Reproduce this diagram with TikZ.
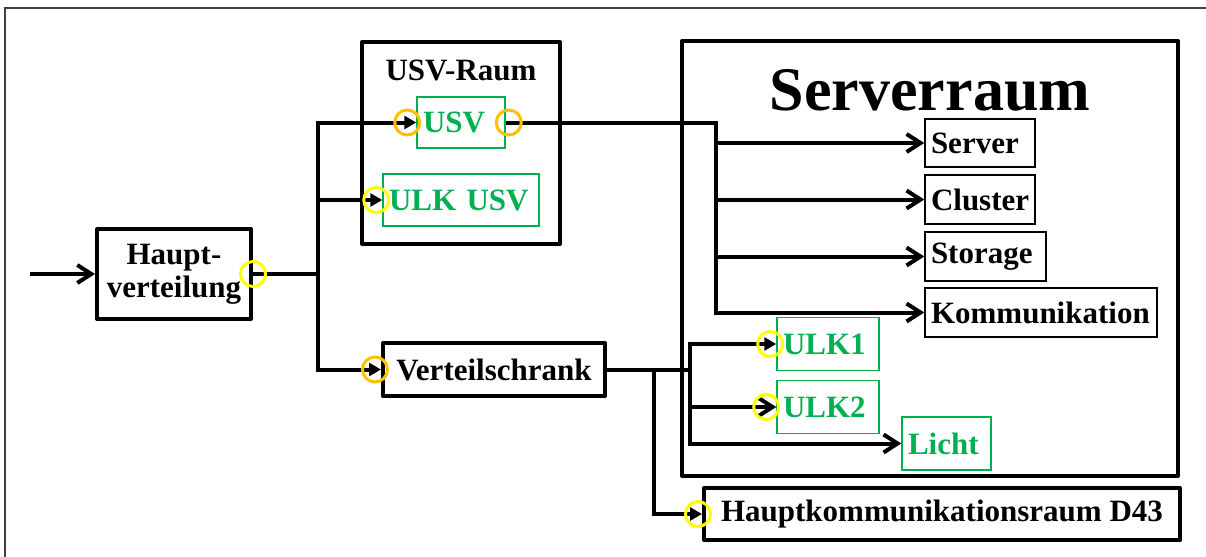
\documentclass[tikz,border=0pt]{standalone}
\usepackage{fontspec}
\setmainfont{Liberation Serif}
\usetikzlibrary{arrows.meta}
\definecolor{pptgreen}{RGB}{0,176,80}
\definecolor{pptorange}{RGB}{255,192,0}
\definecolor{pptyellow}{RGB}{255,255,0}

\begin{document}
\begin{tikzpicture}[x=0.5pt,y=-0.5pt,
  every node/.style={font=\fontsize{15.5}{16.5}\selectfont\bfseries, inner sep=0pt},
  heavybox/.style={draw, line width=2pt, line join=round, align=center},
  thinbox/.style={draw, line width=0.75pt, inner xsep=3pt, align=left},
  greenbox/.style={draw=pptgreen, text=pptgreen, line width=0.75pt, inner xsep=3pt, align=left},
  room/.style={draw, line width=2pt, line join=round},
  wire/.style={line width=2pt},
  openhead/.style={-{Straight Barb[length=7pt,width=9pt]}},
  filledhead/.style={-{Triangle[length=6pt,width=6.5pt]}},
  ring/.style={circle, draw=#1, line width=1.5pt, minimum size=12.5pt, inner sep=0pt},
]
\useasboundingbox (0,0) rectangle (1206,557);

% page frame
\draw[line width=0.8pt, black!75] (5,557) -- (5,8) -- (1206,8);

% rooms
\node[room, minimum width=99pt, minimum height=101pt] (usvraum) at (461,143) {};
\node (usvtitle) at (461,70) {USV-Raum};
\node[room, minimum width=248pt, minimum height=217.5pt] (serverraum) at (930,258.5) {};
\node[font=\fontsize{31}{31}\selectfont\bfseries] (srtitle) at (930,90) {Serverraum};

% distribution boxes
\node[heavybox, minimum width=77pt, minimum height=45pt] (hv) at (174,274) {Haupt-\\verteilung};
\node[heavybox, minimum width=111pt, minimum height=26.5pt] (vs) at (494,369.5) {Verteilschrank};
\node[heavybox, minimum width=238pt, minimum height=26pt] (hkr) at (942,514) {Hauptkommunikationsraum D43};

% UPS room
\node[greenbox, text width=38pt, minimum height=25.5pt] (usv) at (461,122.5) {USV};
\node[greenbox, text width=72pt, minimum height=26pt] (ulkusv) at (461,200) {ULK USV};

% server room contents
\node[thinbox, text width=49pt, minimum height=24pt] (server) at (980,143) {Server};
\node[thinbox, text width=49pt, minimum height=24.5pt] (cluster) at (980,199.5) {Cluster};
\node[thinbox, text width=54.5pt, minimum height=24.5pt] (storage) at (985.5,256.5) {Storage};
\node[thinbox, text width=110pt, minimum height=24.5pt] (komm) at (1041,312.5) {Kommunikation};
\node[greenbox, text width=45pt, minimum height=26.5pt] (ulk1) at (828,344) {ULK1};
\node[greenbox, text width=45pt, minimum height=26.5pt] (ulk2) at (828,407) {ULK2};
\node[greenbox, text width=38.5pt, minimum height=26.5pt] (licht) at (946.5,443.5) {Licht};

% bus positions
\coordinate (feed) at (30,274);
\coordinate (hvbus) at (318,274);
\coordinate (srbus) at (716,200);
\coordinate (lbus) at (690,400);
\coordinate (hbus) at (654,400);

% wiring
\draw[wire,openhead] (feed) -- (hv.west);
\draw[wire] (hv.east) -- (hvbus);
\draw[wire,filledhead] (hvbus) |- (usv.west);
\draw[wire,filledhead] (hvbus |- ulkusv.west) -- (ulkusv.west);
\draw[wire,filledhead] (hvbus) |- (vs.west);

\draw[wire,openhead] (usv.east) -| (srbus |- komm.west) -- (komm.west);
\draw[wire,openhead] (srbus |- server.west) -- (server.west);
\draw[wire,openhead] (srbus |- cluster.west) -- (cluster.west);
\draw[wire,openhead] (srbus |- storage.west) -- (storage.west);

\draw[wire] (vs.east) -- (vs.east -| lbus);
\draw[wire,filledhead] (vs.east -| lbus) |- (ulk1.west);
\draw[wire,openhead] (vs.east -| lbus) |- (licht.west);
\draw[wire,openhead] (lbus |- ulk2.west) -- (ulk2.west);
\draw[wire,filledhead] (vs.east -| hbus) |- (hkr.west);

% connection points
\node[ring=pptyellow] (rhv) at (hv.east) {};
\node[ring=pptorange] (rusvin) at ([xshift=-4.5pt]usv.west) {};
\node[ring=pptorange] (rusvout) at ([xshift=1.5pt]usv.east) {};
\node[ring=pptyellow] (rulkusv) at ([xshift=-3pt]ulkusv.west) {};
\node[ring=pptorange] (rvs) at ([xshift=-3pt]vs.west) {};
\node[ring=pptyellow] (rulk1) at ([xshift=-3pt]ulk1.west) {};
\node[ring=pptyellow] (rulk2) at ([xshift=-5pt]ulk2.west) {};
\node[ring=pptyellow] (rhkr) at ([xshift=-2pt]hkr.west) {};
\end{tikzpicture}
\end{document}
